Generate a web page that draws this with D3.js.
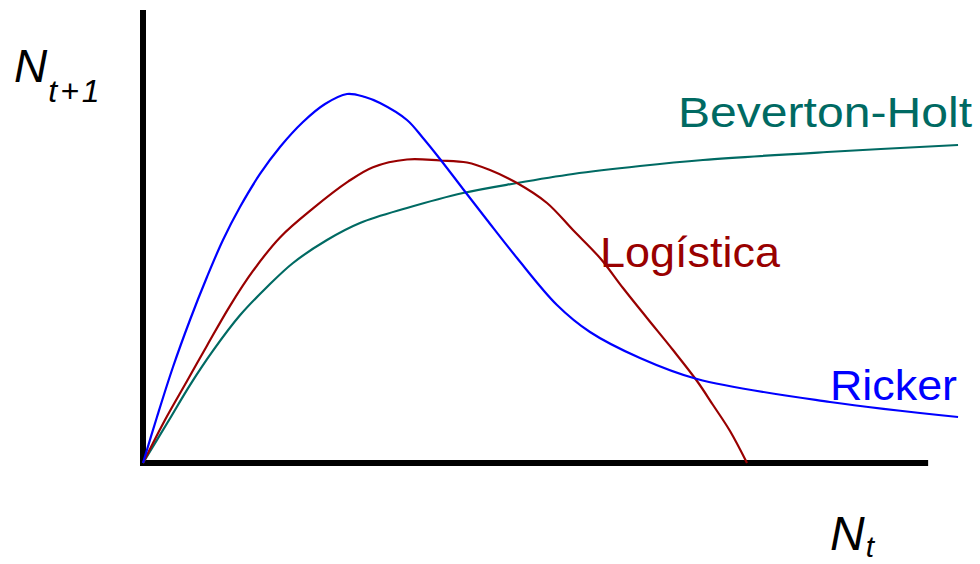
<!DOCTYPE html>
<html>
<head>
<meta charset="utf-8">
<script src="https://cdn.jsdelivr.net/npm/d3@7"></script>
<style>
  html, body { margin: 0; padding: 0; background: #fff; }
  svg { display: block; }
</style>
</head>
<body>
<div id="chart"></div>
<script>
// curve shapes (N_t, N_t+1), arbitrary units 0-100
const rickerX = [0, 1.71, 3.67, 5.75, 7.83, 9.79, 11.87, 14.32, 16.77, 19.58, 22.28, 24.97, 27.17, 29.01, 32.31, 34.27, 36.35, 39.17, 42.11, 45.78, 50.67, 54.71, 60.83, 67.81, 84.09, 99.76];
const rickerY = [0, 10.15, 21.19, 31.57, 41.06, 49.23, 56.51, 63.8, 69.76, 75.28, 79.25, 81.46, 80.79, 79.47, 75.72, 71.74, 67.11, 60.49, 53.64, 45.25, 34.88, 28.92, 23.18, 18.54, 13.47, 10.15];

const logisticX = [0, 2.69, 5.39, 7.83, 10.65, 13.46, 16.77, 20.81, 25.09, 28.15, 32.31, 36.35, 39.66, 42.47, 45.78, 49.45, 52.63, 55.94, 58.75, 61.69, 64.87, 67.81, 69.77, 71.85, 73.93];
const logisticY = [0, 9.49, 18.1, 25.9, 34.7, 42.4, 49.8, 56.2, 62.1, 65.3, 67.0, 66.78, 66.34, 64.68, 61.81, 57.4, 51.43, 45.25, 38.63, 32.01, 24.94, 18.1, 12.8, 7.06, 0];

const bevHoltX = [0, 3.06, 5.75, 8.57, 11.87, 15.18, 18.36, 22.52, 26.56, 32.31, 39.17, 45.78, 52.63, 60.83, 68.54, 83.72, 99.76];
const bevHoltY = [0, 9.1, 17.2, 24.8, 32.6, 38.85, 44.15, 49.23, 52.98, 56.29, 59.6, 61.81, 63.8, 65.56, 66.89, 68.65, 70.2];

const seriesNames = ['Beverton-Holt', 'Logística', 'Ricker'];
const seriesColors = ['#006a63', '#990000', '#0000ff'];

const width = 980, height = 564;
const svg = d3.select('#chart').append('svg')
    .attr('width', width)
    .attr('height', height);

const x = d3.scaleLinear().domain([0, 100]).range([143, 960]);
const y = d3.scaleLinear().domain([0, 100]).range([463, 10]);

const zip = (xs, ys) => xs.map((v, i) => ({x: v, y: ys[i]}));
const series = [
    zip(bevHoltX, bevHoltY),
    zip(logisticX, logisticY),
    zip(rickerX, rickerY)
];

const line = d3.line()
    .x(d => x(d.x))
    .y(d => y(d.y))
    .curve(d3.curveCatmullRom.alpha(0.5));

// axes: plain thick lines, no ticks
svg.append('line')
    .attr('x1', x(0)).attr('x2', x(0))
    .attr('y1', y(100)).attr('y2', y(0) + 3)
    .attr('stroke', '#000').attr('stroke-width', 6);
svg.append('line')
    .attr('x1', x(0) - 3).attr('x2', x(96.1))
    .attr('y1', y(0)).attr('y2', y(0))
    .attr('stroke', '#000').attr('stroke-width', 6);

svg.selectAll('.curve')
    .data(series)
    .enter().append('path')
    .attr('class', 'curve')
    .attr('d', line)
    .attr('fill', 'none')
    .attr('stroke', (d, i) => seriesColors[i])
    .attr('stroke-width', 2.2);

// curve labels
const labelPos = [[678, 127, 294], [600, 267, 180], [830, 400, 127]];
svg.selectAll('.lbl')
    .data(seriesNames)
    .enter().append('text')
    .attr('class', 'lbl')
    .attr('x', (d, i) => labelPos[i][0])
    .attr('y', (d, i) => labelPos[i][1])
    .attr('textLength', (d, i) => labelPos[i][2])
    .attr('lengthAdjust', 'spacingAndGlyphs')
    .attr('font-family', 'Liberation Sans, Arial, sans-serif')
    .attr('font-size', 42)
    .attr('fill', (d, i) => seriesColors[i])
    .text(d => d);

// axis titles
const yTitle = svg.append('text')
    .attr('x', 14).attr('y', 82)
    .attr('font-family', 'Liberation Sans, Arial, sans-serif')
    .attr('font-style', 'italic');
yTitle.append('tspan').attr('font-size', 46).text('N');
yTitle.append('tspan').attr('font-size', 32).attr('dy', 20).attr('dx', 1)
    .attr('letter-spacing', 3).text('t+1');

const xTitle = svg.append('text')
    .attr('x', 830).attr('y', 550)
    .attr('font-family', 'Liberation Sans, Arial, sans-serif')
    .attr('font-style', 'italic');
xTitle.append('tspan').attr('font-size', 48).text('N');
xTitle.append('tspan').attr('font-size', 30).attr('dy', 7).attr('dx', 1).text('t');
</script>
</body>
</html>
